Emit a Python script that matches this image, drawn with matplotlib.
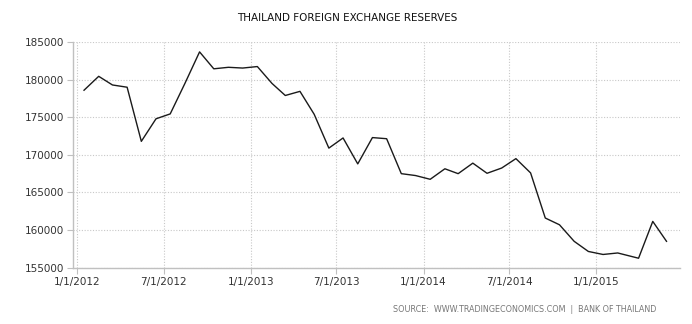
import matplotlib
matplotlib.use("Agg")
import matplotlib.pyplot as plt
import pandas as pd

# ---- data ----
monthly_dates = pd.date_range("2012-01-01", "2015-02-01", freq="MS") + pd.Timedelta(days=14)
late_dates = pd.to_datetime(["2015-03-31", "2015-04-30", "2015-05-29"])
dates = list(monthly_dates) + list(late_dates)

reserves = [
    178600, 180450, 179300, 179000, 171800, 174800, 175450, 179500, 183700, 181450, 181650, 181550,
    181750, 179500, 177900, 178450, 175400, 170900, 172250, 168800, 172300, 172150, 167500, 167250,
    166750, 168150, 167500, 168900, 167550, 168250, 169500, 167600, 161600, 160700, 158500, 157150,
    156750, 156950, 156250, 161150, 158500,
]

tick_dates = pd.to_datetime(["2012-01-01", "2012-07-01", "2013-01-01", "2013-07-01",
                             "2014-01-01", "2014-07-01", "2015-01-01"])
tick_labels = ["1/1/2012", "7/1/2012", "1/1/2013", "7/1/2013", "1/1/2014", "7/1/2014", "1/1/2015"]
y_ticks = [155000, 160000, 165000, 170000, 175000, 180000, 185000]

title = "THAILAND FOREIGN EXCHANGE RESERVES"
source = "SOURCE:  WWW.TRADINGECONOMICS.COM  |  BANK OF THAILAND"

# ---- figure ----
fig = plt.figure(figsize=(6.92, 3.24), dpi=100)
ax = fig.add_axes([0.105, 0.174, 0.878, 0.696])

ax.plot(dates, reserves, color="#1a1a1a", linewidth=1.0)

ax.set_xlim(pd.Timestamp("2011-12-22"), pd.Timestamp("2015-06-27"))
ax.set_ylim(155000, 185000)

ax.set_xticks(tick_dates)
ax.set_xticklabels(tick_labels)
ax.set_yticks(y_ticks)
ax.set_yticklabels([str(v) for v in y_ticks])

ax.grid(True, color="#c8c8c8", linestyle=(0, (1, 1.5)), linewidth=0.8)
ax.set_axisbelow(True)

for s in ["top", "right"]:
    ax.spines[s].set_visible(False)
for s in ["left", "bottom"]:
    ax.spines[s].set_color("#c0c0c0")
    ax.spines[s].set_linewidth(1.0)

ax.tick_params(axis="both", colors="#c0c0c0", labelcolor="#333333", labelsize=7.5,
               length=4, width=0.8, direction="out")
ax.tick_params(axis="x", pad=3)
ax.tick_params(axis="y", pad=2)

fig.text(0.502, 0.944, title, ha="center", va="center", fontsize=7.5, color="#111111")
fig.text(0.949, 0.046, source, ha="right", va="center", fontsize=5.75, color="#777777")

fig.savefig("out.png", dpi=100)
